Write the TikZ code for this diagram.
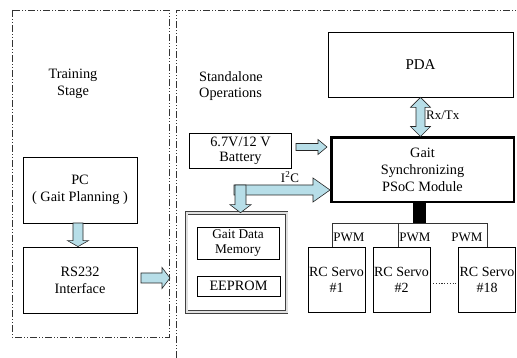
\documentclass[tikz,border=0pt]{standalone}
\usepackage{fontspec}
\setmainfont{Liberation Serif}
\usetikzlibrary{calc}
\definecolor{arrowfill}{HTML}{B7DEE8}
\newcommand{\rblk}[5]{\draw[blk] let \p1=(#1), \p2=(#2) in (\x1,\y1+#3) -- (\x2-#5,\y1+#3) -- (\x2-#5,\y1+#4) -- (\x2,\y1) -- (\x2-#5,\y1-#4) -- (\x2-#5,\y1-#3) -- (\x1,\y1-#3) -- cycle;}
\newcommand{\dblk}[5]{\draw[blk] let \p1=(#1), \p2=(#2) in (\x1-#3,\y1) -- (\x1-#3,\y2+#5) -- (\x1-#4,\y2+#5) -- (\x1,\y2) -- (\x1+#4,\y2+#5) -- (\x1+#3,\y2+#5) -- (\x1+#3,\y1) -- cycle;}
\newcommand{\udblk}[5]{\draw[blk] let \p1=(#1), \p2=(#2) in (\x1,\y1) -- (\x1+#4,\y1-#5) -- (\x1+#3,\y1-#5) -- (\x1+#3,\y2+#5) -- (\x1+#4,\y2+#5) -- (\x1,\y2) -- (\x1-#4,\y2+#5) -- (\x1-#3,\y2+#5) -- (\x1-#3,\y1-#5) -- (\x1-#4,\y1-#5) -- cycle;}
\begin{document}
\begin{tikzpicture}[x=1pt,y=-1pt,
  box/.style={draw=black, line width=0.8pt, rectangle, inner sep=0pt, align=center, font=\fontsize{14.3}{17}\selectfont},
  sbox/.style={box, font=\fontsize{14}{16}\selectfont},
  lbl/.style={inner sep=0pt, align=center, font=\fontsize{13}{16}\selectfont},
  blk/.style={draw=black!85, line width=0.6pt, fill=arrowfill, line join=miter},
  frame/.style={draw=black!80, line width=0.6pt, dash pattern=on 7pt off 2pt on 1pt off 2pt on 1pt off 2pt},
  bus/.style={draw=black!80, line width=0.7pt}]
\useasboundingbox (0,0) rectangle (517,358);
% frames
\draw[frame] (12,10) rectangle (169,337);
\coordinate (fr1) at (176,358);
\coordinate (fr2) at (176,10);
\coordinate (fr3) at (517,10);
\draw[frame] (fr1) -- (fr2) -- (fr3);
% titles
\node[lbl, font=\fontsize{14.3}{17}\selectfont] (train) at (73,84) {Training\\Stage};
\node[lbl, align=left, anchor=west, font=\fontsize{14.3}{16}\selectfont] (stand) at (199,86) {Standalone\\Operations};
% left boxes
\node[box, minimum width=114pt, minimum height=66pt] (pc) at (80,190) {PC\\( Gait Planning )};
\node[box, minimum width=114pt, minimum height=66pt] (rs) at (80,280) {RS232\\Interface};
% right boxes
\node[box, minimum width=102pt, minimum height=35pt, font=\fontsize{14.3}{15}\selectfont] (bat) at (240.5,151) {6.7V/12 V\\Battery};
\node[box, minimum width=185pt, minimum height=65pt, font=\fontsize{15}{17}\selectfont] (pda) at (420.5,64.5) {PDA};
\node[box, line width=2.5pt, minimum width=182.5pt, minimum height=64.5pt, font=\fontsize{14.3}{17}\selectfont] (gait) at (422.5,170) {Gait\\Synchronizing\\PSoC Module};
\node[draw=black!75, line width=0.6pt, double=black!12, double distance=2pt, minimum width=100pt, minimum height=99pt, inner sep=0pt] (mem) at (236.5,262.5) {};
\node[sbox, minimum width=82pt, minimum height=32pt, font=\fontsize{13.3}{15}\selectfont] (gdm) at (238,243) {Gait Data\\Memory};
\node[box, minimum width=83pt, minimum height=20pt] (eep) at (238.5,286) {EEPROM};
\node[sbox, minimum width=57pt, minimum height=65pt] (s1) at (336.5,279.5) {RC Servo\\\#1};
\node[sbox, minimum width=57pt, minimum height=65pt] (s2) at (401.5,279.5) {RC Servo\\\#2};
\node[sbox, minimum width=57pt, minimum height=65pt] (s18) at (487,279.5) {RC Servo\\\#18};
% bus
\coordinate (b1) at (332,223);
\coordinate (b2) at (398,223);
\coordinate (b3) at (487,223);
\draw[bus] (b1 |- s1.north) -- (b1) -- (b3) -- (b3 |- s18.north);
\draw[bus] (b2) -- (b2 |- s2.north);
\coordinate (bk) at (419.5,203);
\draw[line width=13pt, black] (bk) -- (bk |- b2);
\node[lbl] (pwm1) at (349,237.5) {PWM};
\node[lbl] (pwm2) at (415,237.5) {PWM};
\node[lbl] (pwm3) at (467,237.5) {PWM};
% dots between servos
\coordinate (dt1) at (433,283);
\coordinate (dt2) at (456,283);
\draw[black!80, line width=0.7pt, dash pattern=on 1.2pt off 1.6pt] (dt1) -- (dt2);
% block arrows
\coordinate (a1) at (78,223);
\dblk{a1}{a1 |- rs.north}{5pt}{10.5pt}{6pt}
\coordinate (a2) at (141,278);
\coordinate (a2t) at (170,278);
\rblk{a2}{a2t}{5pt}{10.5pt}{8pt}
\coordinate (a3) at (296,147);
\coordinate (a3t) at (327,147);
\rblk{a3}{a3t}{3.5pt}{7.5pt}{9pt}
\udblk{pda.south}{pda.south |- gait.north}{4.5pt}{10pt}{10pt}
\node[lbl, anchor=west] (rxtx) at (426,115) {Rx/Tx};
\coordinate (i2h) at (234,190);
\rblk{i2h}{i2h -| gait.west}{5pt}{12pt}{17pt}
\coordinate (i2v) at (240.5,185);
\dblk{i2v}{i2v |- mem.north}{5.5pt}{10.5pt}{8pt}
\node[lbl] (i2c) at (290,177) {I\textsuperscript{2}C};
\end{tikzpicture}
\end{document}
